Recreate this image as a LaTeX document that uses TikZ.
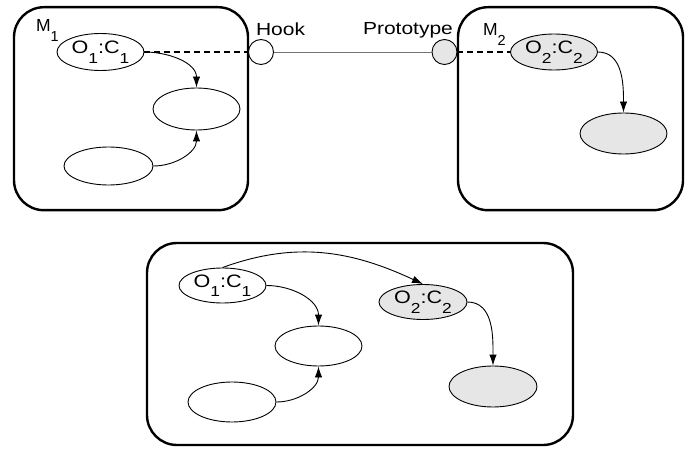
\documentclass[tikz,border=0pt]{standalone}
\usepackage{fontspec}
\setmainfont[FakeStretch=1.2]{Liberation Sans}
\newfontfamily\plainsf{Liberation Sans}
\usetikzlibrary{shapes.geometric,arrows.meta}

\newcommand{\idx}[1]{\raisebox{-9.5pt}{\fontsize{14.5}{14.5}\selectfont #1}}
\newcommand{\modname}[1]{{\plainsf\fontsize{17.5}{20}\selectfont M\idx{#1}}}

\definecolor{protoFill}{RGB}{230,230,230}
\definecolor{wireColor}{gray}{0.45}

\tikzset{
  module/.style={draw=black,line width=2.4pt,rounded corners=30pt,inner sep=0pt},
  obj/.style={ellipse,draw=black,line width=0.9pt,fill=white,inner sep=0pt,
    minimum width=87pt,minimum height=38pt,font=\fontsize{18}{20}\selectfont},
  protoobj/.style={obj,fill=protoFill},
  port/.style={circle,draw=black,line width=0.9pt,inner sep=0pt,minimum size=25pt},
  lbl/.style={inner sep=0pt,outer sep=0pt,font=\fontsize{17.5}{20}\selectfont},
  link/.style={-{Latex[length=11pt,width=7.5pt]},line width=0.9pt},
  bind/.style={line width=2.4pt,dash pattern=on 6pt off 4pt}
}

\begin{document}
\begin{tikzpicture}[x=1pt,y=1pt]
\path[use as bounding box,fill=white] (0,0) rectangle (686,448);

\node[module,minimum width=234pt,minimum height=203pt] (m1) at (131,339.3) {};
\node[module,minimum width=225pt,minimum height=203pt] (m2) at (570.5,339.3) {};
\node[module,minimum width=426pt,minimum height=202pt] (m12) at (360,104) {};

\node[lbl,anchor=base west] (m1lbl) at (36,416) {\modname{1}};
\node[lbl,anchor=base west] (m2lbl) at (483,412) {\modname{2}};
\node[lbl,anchor=base west] (hooklbl) at (256,412.5) {Hook};
\node[lbl,anchor=base west] (protolbl) at (363,413) {Prototype};

\node[obj,minimum height=37pt] (o1) at (100.5,396) {O\idx{1}:C\idx{1}};
\node[obj,minimum height=42pt] (a1) at (196.5,339) {};
\node[obj,minimum width=89pt] (b1) at (108.5,282) {};

\node[protoobj,minimum height=36pt] (o2) at (554,396) {O\idx{2}:C\idx{2}};
\node[protoobj,minimum height=41pt] (g2) at (623.5,314.5) {};

\node[port,fill=white] (hook) at (261,396) {};
\node[port,fill=protoFill] (proto) at (444.5,396) {};

\draw[link] (o1.east) to[out=0,in=90] (a1.north);
\draw[link] (b1.east) to[out=0,in=-90] (a1.south);
\draw[link] (o2.east) to[out=0,in=90] (g2.north);

\draw[bind] (o1.east) -- (hook.west);
\draw[wireColor,line width=0.9pt] (hook.east) -- (proto.west);
\draw[bind] (proto.east) -- (o2.west);

\node[obj,minimum height=35pt] (o1m) at (222.5,162.5) {O\idx{1}:C\idx{1}};
\node[obj,minimum height=40pt] (a1m) at (318.5,102) {};
\node[obj,minimum width=88pt,minimum height=40pt] (b1m) at (232,46) {};
\node[protoobj,minimum width=88pt,minimum height=35pt] (o2m) at (423,146) {O\idx{2}:C\idx{2}};
\node[protoobj,minimum width=88pt,minimum height=41pt] (g2m) at (493,61.5) {};

\draw[link] (o1m.north) to[out=20,in=155] (o2m.north);
\draw[link] (o1m.east) to[out=0,in=90] (a1m.north);
\draw[link] (b1m.east) to[out=0,in=-90] (a1m.south);
\draw[link] (o2m.east) to[out=0,in=90] (g2m.north);
\end{tikzpicture}
\end{document}
